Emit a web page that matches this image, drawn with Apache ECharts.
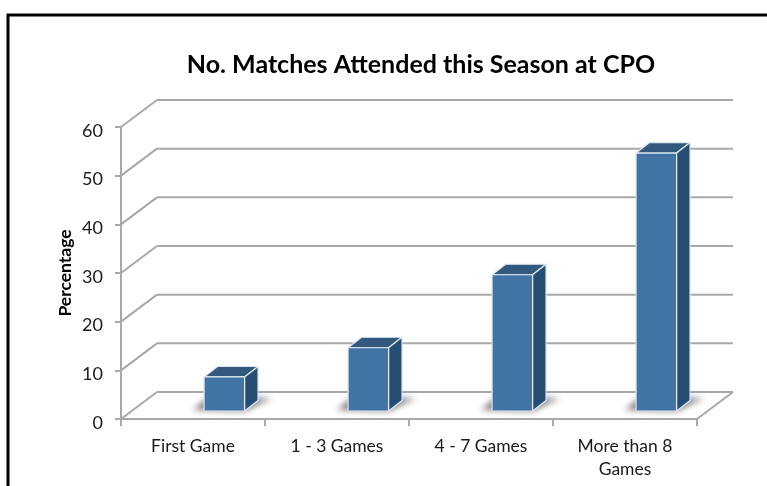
<!DOCTYPE html>
<html>
<head>
<meta charset="utf-8">
<style>html,body{margin:0;padding:0;background:#fff}#c{width:767px;height:486px}</style>
<script src="https://cdn.jsdelivr.net/npm/echarts@6/dist/echarts.min.js"></script>
</head>
<body>
<div id="c"></div>
<script>
const categories = ['First Game', '1 - 3 Games', '4 - 7 Games', 'More than 8\nGames'];
const percentages = [7, 13, 28, 53];
const wallTicks = [0, 10, 20, 30, 40, 50, 60];

const FONT = 'Lato';
const GRID = '#a8a8a8';
const WALL_DX = 36, WALL_DY = -27;   // depth of the chart box
const BAR_SHIFT_X = 31.3, BAR_LIFT = 8; // bars stand inside the floor
const BAR_W = 40.5, BAR_DX = 13.5, BAR_DY = -10.5;
const OFF = 1500; // the floor shadow's caster sits off-canvas so only its blur shows

const chart = echarts.init(document.getElementById('c'), null, {renderer: 'canvas'});

function renderWall(params, api) {
  const v = api.value(0);
  const y = api.coord([0, v])[1];
  const xL = params.coordSys.x;
  const xR = params.coordSys.x + params.coordSys.width;
  const style = {stroke: GRID, lineWidth: 2, fill: null};
  const children = [
    {type: 'line', shape: {x1: xL, y1: y, x2: xL + WALL_DX, y2: y + WALL_DY}, style},
    {type: 'line', shape: {x1: xL + WALL_DX, y1: y + WALL_DY, x2: xR + WALL_DX, y2: y + WALL_DY}, style}
  ];
  if (v === 0) {
    children.push({type: 'line', shape: {x1: xR, y1: y, x2: xR + WALL_DX, y2: y + WALL_DY}, style});
  }
  return {type: 'group', children};
}

function renderBar(params, api) {
  const cat = api.value(0);
  const top = api.coord([cat, api.value(1)]);
  const base = api.coord([cat, 0]);
  const x0 = top[0] + BAR_SHIFT_X - BAR_W / 2;
  const x1 = x0 + BAR_W;
  const yT = top[1] - BAR_LIFT;
  const yB = base[1] - BAR_LIFT;
  const edge = '#dfe8f1';
  const line = {stroke: edge, lineWidth: 1.2, lineJoin: 'round'};
  return {
    type: 'group',
    children: [
      {type: 'polygon', shape: {points: [[x0 - 11 - OFF, yB - 1], [x1 - OFF, yB], [x1 + 27 - OFF, yB - 13], [x0 + 3 - OFF, yB - 13]]},
        style: {fill: '#000', shadowBlur: 6, shadowColor: 'rgba(120,120,120,0.95)', shadowOffsetX: OFF, shadowOffsetY: 0}},
      {type: 'polygon', shape: {points: [[x0, yT], [x1, yT], [x1 + BAR_DX, yT + BAR_DY], [x0 + BAR_DX, yT + BAR_DY]]},
        style: Object.assign({fill: '#33597f'}, line)},
      {type: 'polygon', shape: {points: [[x1, yT], [x1 + BAR_DX, yT + BAR_DY], [x1 + BAR_DX, yB + BAR_DY], [x1, yB]]},
        style: Object.assign({fill: '#264d72'}, line)},
      {type: 'rect', shape: {x: x0, y: yT, width: BAR_W, height: yB - yT},
        style: Object.assign({fill: '#4173a5'}, line)}
    ]
  };
}

chart.setOption({
  animation: false,
  backgroundColor: '#fff',
  title: {
    text: 'No. Matches Attended this Season at CPO',
    left: 416, top: 47, textAlign: 'center',
    textStyle: {fontFamily: FONT, fontWeight: 'bold', fontSize: 25, color: '#000'}
  },
  graphic: [{
    type: 'rect', silent: true, z: 100,
    shape: {x: 8, y: 15, width: 800, height: 520},
    style: {fill: null, stroke: '#000', lineWidth: 3}
  }],
  grid: {left: 121, right: 70, top: 127, bottom: 67},
  xAxis: {
    type: 'category', data: categories, boundaryGap: true,
    axisLine: {show: true, lineStyle: {color: GRID, width: 2}},
    axisTick: {show: true, length: 7, alignWithLabel: false, lineStyle: {color: GRID, width: 2}},
    axisLabel: {fontFamily: FONT, fontSize: 17.5, color: '#1a1a1a', margin: 16, lineHeight: 23, interval: 0},
    splitLine: {show: false}
  },
  yAxis: {
    type: 'value', min: 0, max: 60, interval: 10,
    name: 'Percentage', nameLocation: 'middle', nameRotate: 90, nameGap: 47, nameMoveOverlap: false,
    nameTextStyle: {fontFamily: FONT, fontWeight: 'bold', fontSize: 17.5, color: '#000'},
    axisLine: {show: true, lineStyle: {color: GRID, width: 2}},
    axisTick: {show: true, length: 6, lineStyle: {color: GRID, width: 2}},
    axisLabel: {
      margin: 18,
      formatter: '{a|{value}}',
      rich: {a: {fontFamily: FONT, fontSize: 18, color: '#1a1a1a', padding: [8, 0, 0, 0]}}
    },
    splitLine: {show: false}
  },
  series: [
    {type: 'custom', name: 'wall', z: 1, silent: true, renderItem: renderWall,
      data: wallTicks.map(v => [v]), encode: {y: 0}},
    {type: 'custom', name: 'Percentage', z: 3, renderItem: renderBar,
      data: percentages.map((v, i) => [i, v]), encode: {x: 0, y: 1}}
  ]
});
</script>
</body>
</html>
